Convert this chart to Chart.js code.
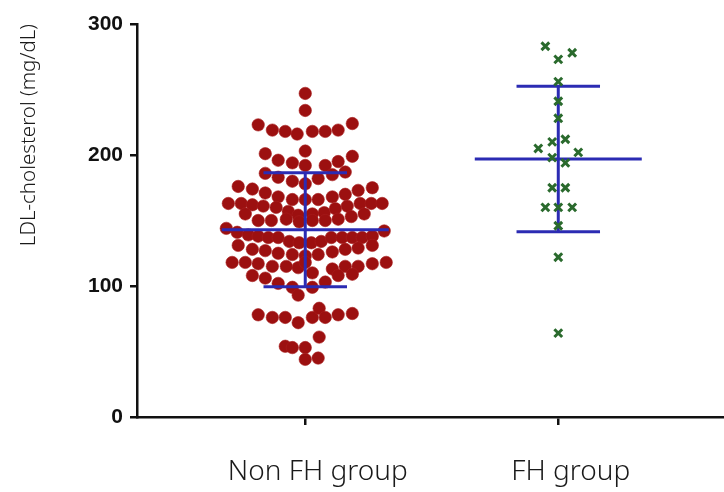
<!DOCTYPE html>
<html>
<head>
<meta charset="utf-8">
<script src="https://cdn.jsdelivr.net/npm/chart.js@4.4.1/dist/chart.umd.min.js"></script>
<style>
  html, body { margin: 0; padding: 0; background: #fff; }
  #wrap { width: 724px; height: 492px; position: relative; }
</style>
</head>
<body>
<div id="wrap"><canvas id="chart"></canvas></div>
<script>
// groups on the x axis
const categories = ["Non FH group", "FH group"];

// Non FH group: LDL values (mg/dL) and horizontal spread (fraction of group spacing)
const nonFhValues = [
  247, 234,
  223, 219, 218, 216, 218, 218, 219, 224,
  203,
  201, 196, 194, 192, 192, 195, 199,
  186, 183, 180, 178, 182, 185, 187,
  176, 174, 171, 168, 166, 166, 166, 168, 170, 173, 175,
  163, 163, 162, 161, 160, 157, 154, 155, 156, 159, 161, 163, 163, 163,
  155, 150, 150, 151, 149, 150, 150, 151, 153, 155,
  144, 141, 139, 138, 137, 137, 134, 133, 133, 134, 137, 137, 137, 137, 138, 142,
  131, 128, 127, 125, 124, 123, 124, 126, 128, 129, 131,
  118, 118, 117, 115, 115, 114, 118, 110, 113, 115, 115, 117, 118,
  108, 106, 102, 99, 99, 103, 108, 109,
  93,
  78, 76, 76, 72, 76, 83, 76, 78, 79,
  61, 54, 53, 53, 44, 45
];
const nonFhOffsets = [
  0, 0,
  -0.186, -0.130, -0.079, -0.032, 0.028, 0.079, 0.130, 0.186,
  0,
  -0.158, -0.107, -0.051, 0, 0.079, 0.130, 0.186,
  -0.158, -0.107, -0.051, 0, 0.051, 0.107, 0.158,
  -0.265, -0.209, -0.158, -0.107, -0.051, 0, 0.051, 0.107, 0.158, 0.209, 0.265,
  -0.304, -0.253, -0.209, -0.166, -0.115, -0.067, -0.028, 0.028, 0.075, 0.119, 0.166, 0.217, 0.261, 0.304,
  -0.237, -0.186, -0.134, -0.075, -0.024, 0.028, 0.079, 0.130, 0.182, 0.233,
  -0.312, -0.269, -0.225, -0.186, -0.146, -0.107, -0.063, -0.024, 0.024, 0.063, 0.103, 0.146, 0.186, 0.225, 0.265, 0.312,
  -0.265, -0.209, -0.158, -0.107, -0.051, 0, 0.051, 0.107, 0.158, 0.209, 0.265,
  -0.289, -0.237, -0.186, -0.130, -0.075, -0.028, 0, 0.028, 0.107, 0.158, 0.209, 0.265, 0.320,
  -0.209, -0.158, -0.107, -0.051, 0.028, 0.079, 0.130, 0.186,
  -0.028,
  -0.186, -0.130, -0.079, -0.028, 0.028, 0.055, 0.079, 0.130, 0.186,
  0.055, -0.079, -0.051, 0, 0, 0.051
];

// FH group
const fhValues = [283, 273, 278, 256, 241, 228, 210, 212, 205, 202, 198, 194, 175, 175, 160, 160, 160, 146, 122, 64];
const fhOffsets = [-0.051, 0, 0.055, 0, 0, 0, -0.024, 0.028, -0.079, 0.079, -0.024, 0.028, -0.024, 0.028, -0.051, 0, 0.055, 0, 0, 0];

// mean and SD per group
const groupMeans = [143, 197];
const groupSDs = [43.5, 55.5];

const yTicks = [0, 100, 200, 300];

const MEAN_HALF = 0.33;
const SD_HALF = 0.165;

function points(values, offsets, pos) {
  return values.map((v, i) => ({ x: pos + offsets[i], y: v }));
}

// mean line, SD caps and the stem, split by gaps
function errorBars(i) {
  const pos = i + 1, m = groupMeans[i], s = groupSDs[i];
  return [
    { x: pos - MEAN_HALF, y: m }, { x: pos + MEAN_HALF, y: m }, { x: pos, y: null },
    { x: pos - SD_HALF, y: m + s }, { x: pos + SD_HALF, y: m + s }, { x: pos, y: null },
    { x: pos - SD_HALF, y: m - s }, { x: pos + SD_HALF, y: m - s }, { x: pos, y: null },
    { x: pos, y: m - s }, { x: pos, y: m + s }
  ];
}

const blue = "#2b2bb3";
const axisColor = "#111";

new Chart(document.querySelector("#chart"), {
  type: "scatter",
  data: {
    datasets: [
      {
        label: categories[0],
        data: points(nonFhValues, nonFhOffsets, 1),
        pointStyle: "circle",
        pointRadius: 6.2,
        backgroundColor: "#9c1010",
        borderColor: "#a81c1c",
        borderWidth: 0.6,
        order: 2
      },
      {
        type: "line",
        data: errorBars(0),
        borderColor: blue,
        borderWidth: 3,
        pointRadius: 0,
        spanGaps: false,
        order: 1
      },
      {
        type: "line",
        data: errorBars(1),
        borderColor: blue,
        borderWidth: 3,
        pointRadius: 0,
        spanGaps: false,
        order: 1
      },
      {
        label: categories[1],
        data: points(fhValues, fhOffsets, 2),
        pointStyle: "crossRot",
        pointRadius: 5.5,
        borderColor: "#2a6a2d",
        borderWidth: 3,
        order: 0
      }
    ]
  },
  options: {
    responsive: true,
    maintainAspectRatio: false,
    animation: false,
    events: [],
    layout: { autoPadding: false, padding: { top: 24, right: 0, left: 0, bottom: 0 } },
    plugins: { legend: { display: false }, tooltip: { enabled: false } },
    scales: {
      x: {
        type: "linear",
        min: 0.335,
        max: 2.655,
        afterBuildTicks: (scale) => { scale.ticks = categories.map((c, i) => ({ value: i + 1 })); },
        afterFit: (scale) => {
          scale.height = 75;
          scale.paddingLeft = 0;
          scale.paddingRight = 0;
        },
        border: { display: true, color: axisColor, width: 2.5 },
        grid: { drawOnChartArea: false, drawTicks: true, tickLength: 8, color: axisColor, lineWidth: 2.5 },
        ticks: {
          callback: (v, i) => categories[i],
          labelOffset: 12.5,
          padding: 30,
          maxRotation: 0,
          autoSkip: false,
          color: "#1a1a1a",
          font: { family: "'Noto Sans', 'Open Sans', sans-serif", size: 28, weight: "300" }
        }
      },
      y: {
        min: 0,
        max: 300,
        afterBuildTicks: (scale) => { scale.ticks = yTicks.map(v => ({ value: v })); },
        afterFit: (scale) => { scale.width = 137; },
        border: { display: true, color: axisColor, width: 2.5 },
        grid: { drawOnChartArea: false, drawTicks: true, tickLength: 7, color: axisColor, lineWidth: 2.5 },
        ticks: {
          padding: 7,
          color: "#111",
          font: { family: "'Liberation Sans', Arial, sans-serif", size: 21, weight: "bold" }
        },
        title: {
          display: true,
          text: "LDL-cholesterol (mg/dL)",
          align: "end",
          color: "#1a1a1a",
          padding: { top: 17, bottom: 0 },
          font: { family: "'Noto Sans', 'Open Sans', sans-serif", size: 20.5, weight: "300" }
        }
      }
    }
  }
});
</script>
</body>
</html>
